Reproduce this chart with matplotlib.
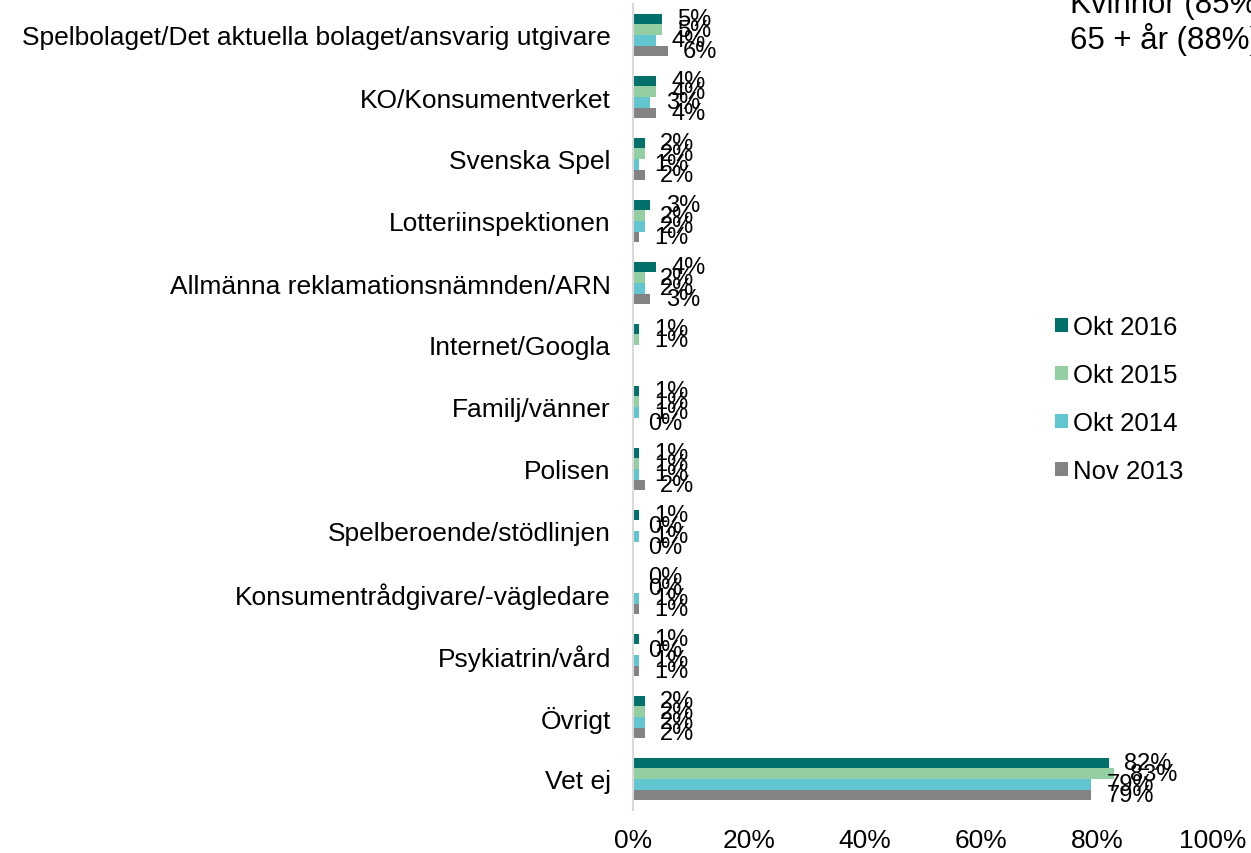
import numpy as np
import matplotlib
matplotlib.use("Agg")
import matplotlib.pyplot as plt
from matplotlib.patches import Patch

plt.rcParams['font.family'] = ['Liberation Sans', 'DejaVu Sans']

# categories top to bottom
categories = [
    "Spelbolaget/Det aktuella bolaget/ansvarig utgivare",
    "KO/Konsumentverket",
    "Svenska Spel",
    "Lotteriinspektionen",
    "Allmänna reklamationsnämnden/ARN",
    "Internet/Googla",
    "Familj/vänner",
    "Polisen",
    "Spelberoende/stödlinjen",
    "Konsumentrådgivare/-vägledare",
    "Psykiatrin/vård",
    "Övrigt",
    "Vet ej",
]

series_names = ["Okt 2016", "Okt 2015", "Okt 2014", "Nov 2013"]
okt_2016 = [5, 4, 2, 3, 4, 1, 1, 1, 1, 0, 1, 2, 82]
okt_2015 = [5, 4, 2, 2, 2, 1, 1, 1, 0, 0, 0, 2, 83]
okt_2014 = [4, 3, 1, 2, 2, np.nan, 1, 1, 1, 1, 1, 2, 79]
nov_2013 = [6, 4, 2, 1, 3, np.nan, 0, 2, 0, 1, 1, 2, 79]
colors = ["#00706a", "#93cfa3", "#62c6d0", "#838383"]

xticks = [0, 20, 40, 60, 80, 100]

fig = plt.figure(figsize=(12.51, 8.54), dpi=100)
ax = fig.add_axes([633 / 1251, 1 - 811 / 854, 580 / 1251, 806 / 854])

n = len(categories)
y = np.arange(n)
bar_h = 0.17
all_series = [okt_2016, okt_2015, okt_2014, nov_2013]

for i, (vals, col) in enumerate(zip(all_series, colors)):
    ypos = y - 1.5 * bar_h + i * bar_h
    ax.barh(ypos, vals, height=bar_h, color=col)
    for yy, v in zip(ypos, vals):
        if np.isnan(v):
            continue
        ax.annotate(f"{v:.0f}%", xy=(v, yy), xytext=(11, 0),
                    textcoords="offset points", va="center", ha="left",
                    fontsize=17, annotation_clip=False)

ax.set_ylim(n - 0.5, -0.5)
ax.set_xlim(0, 100)
ax.set_yticks(y)
ax.set_yticklabels(categories, fontsize=19)
ax.set_xticks(xticks)
ax.set_xticklabels([f"{t}%" for t in xticks], fontsize=19)
ax.tick_params(axis="y", length=0, pad=16)
ax.tick_params(axis="x", length=0, pad=13)
for s in ["top", "right", "bottom"]:
    ax.spines[s].set_visible(False)
ax.spines["left"].set_color("#d9d9d9")
ax.spines["left"].set_linewidth(1.5)

handles = [Patch(facecolor=c, edgecolor="none") for c in colors]
fig.legend(handles, series_names, loc="upper left",
           bbox_to_anchor=(1045 / 1251, 1 - 306 / 854), frameon=False,
           fontsize=18.5, handlelength=0.5, handleheight=0.5,
           handletextpad=0.2, labelspacing=0.93, borderaxespad=0)

fig.text(1070 / 1251, 1 - 23 / 854, "Kvinnor (85%)\n65 + år (88%)",
         fontsize=22.5, ha="left", va="center", linespacing=1.15)

fig.savefig("out.png", dpi=100)
